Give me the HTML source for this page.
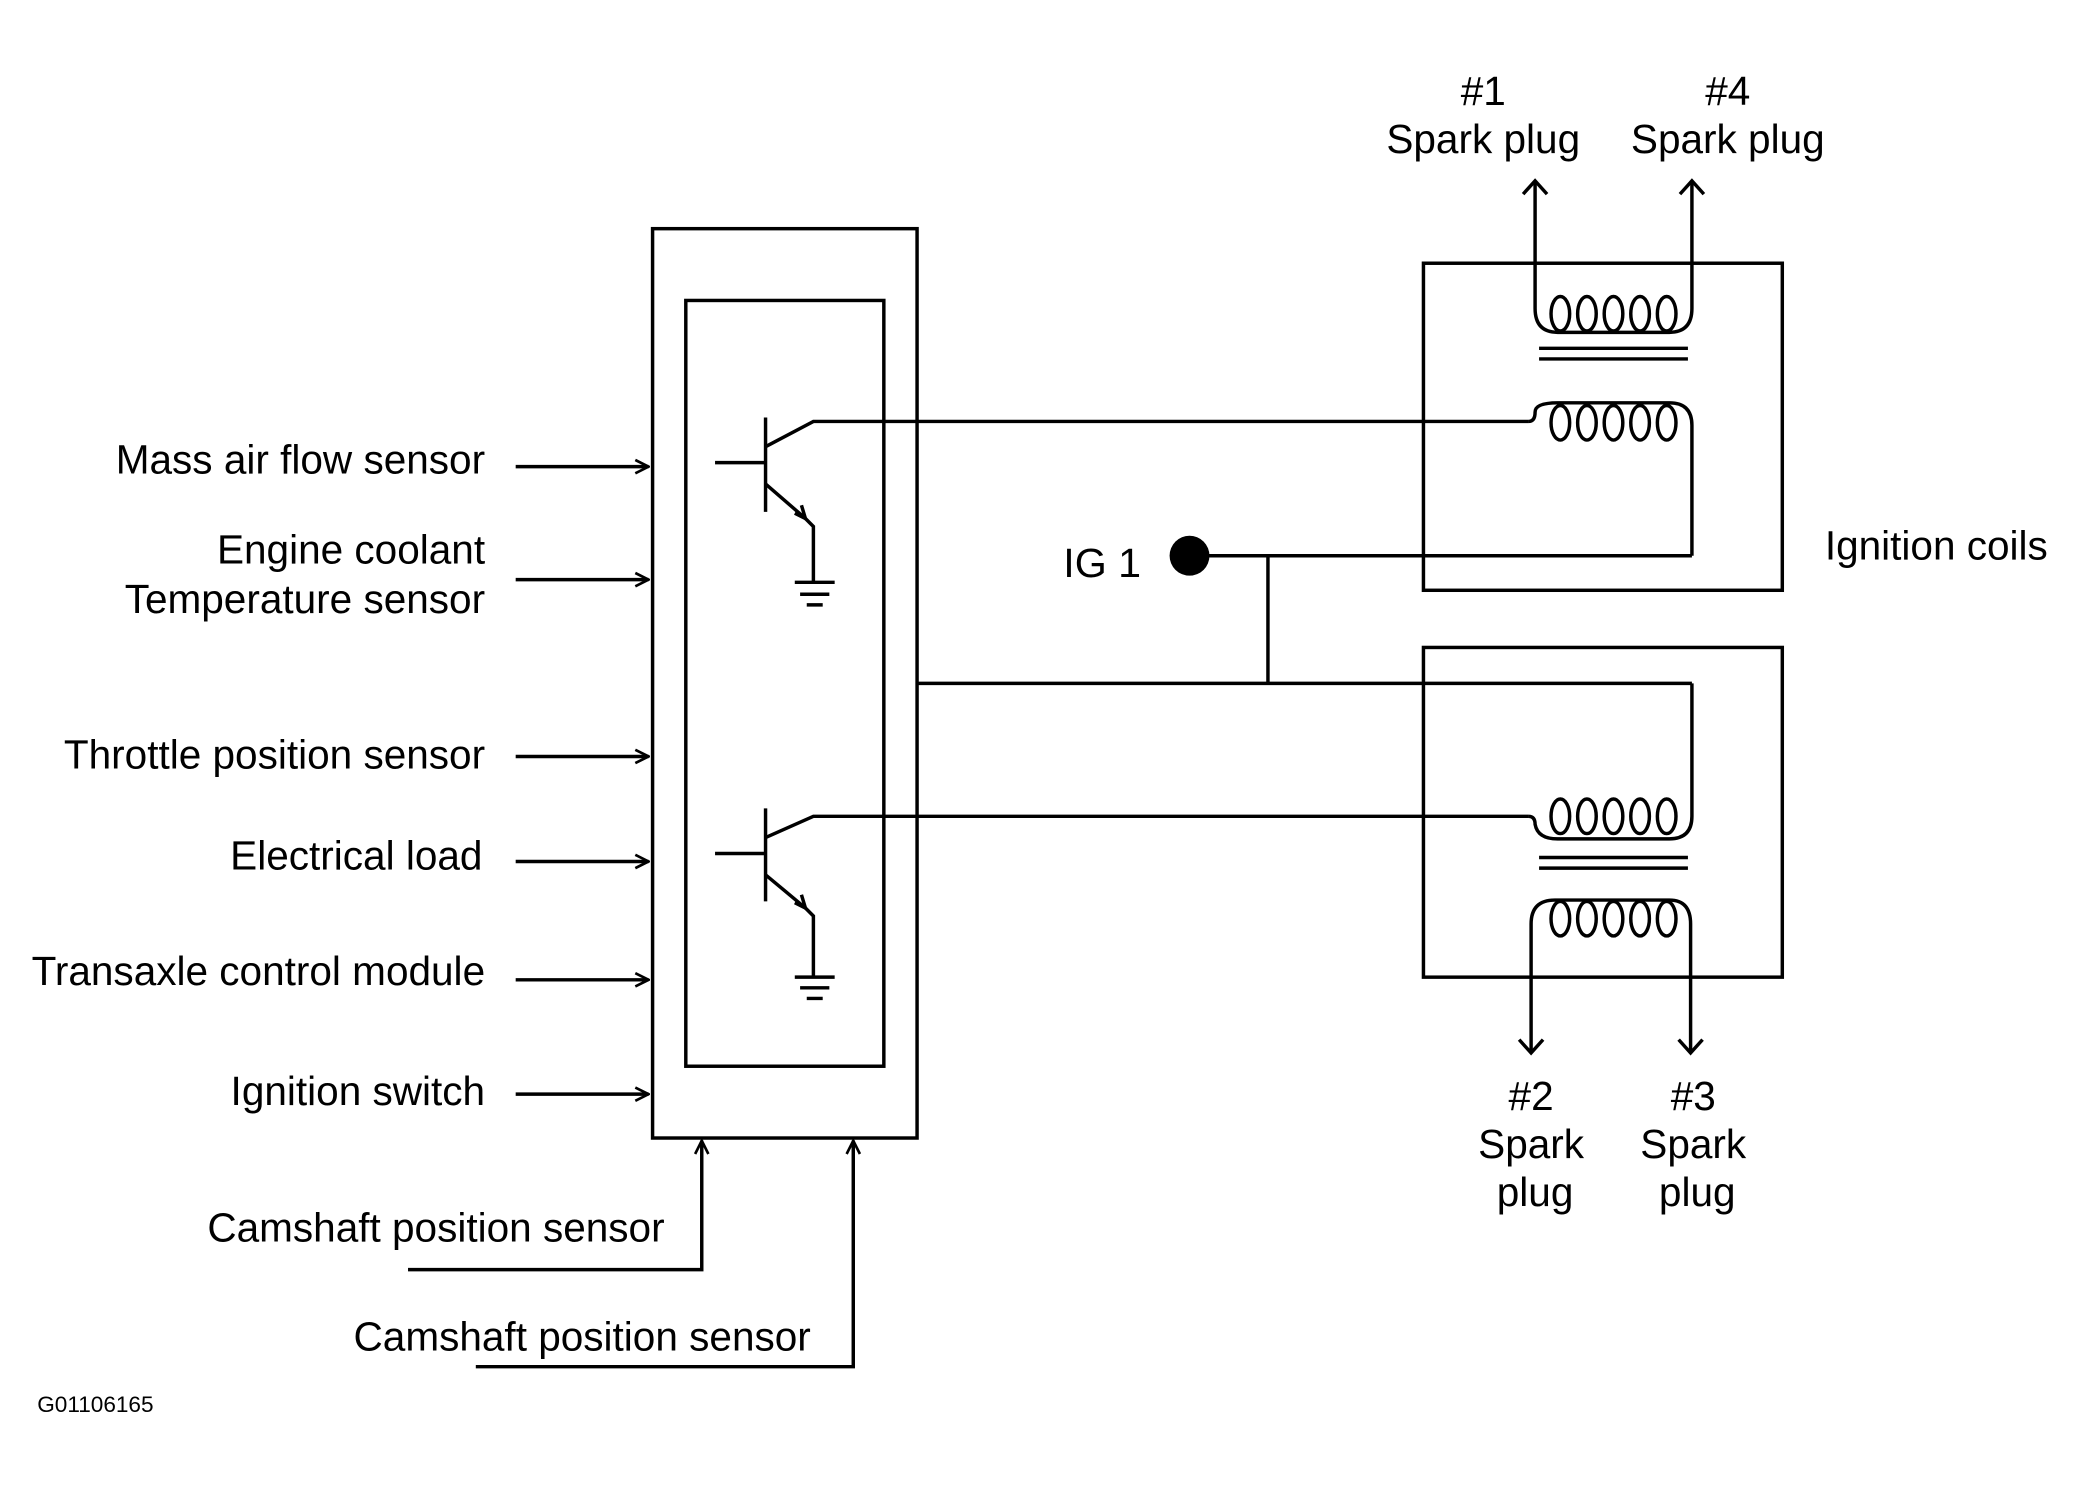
<!DOCTYPE html>
<html><head><style>
html,body{margin:0;padding:0;background:#fff;}
svg{display:block;}
text{font-family:"Liberation Sans",Arial,sans-serif;fill:#000;}
</style></head><body>
<svg width="2084" height="1489" viewBox="0 0 1568 1120" preserveAspectRatio="none" xmlns="http://www.w3.org/2000/svg">
<defs>
<marker id="ah" viewBox="0 0 12 12" refX="11" refY="6" markerWidth="12" markerHeight="12" markerUnits="userSpaceOnUse" orient="auto">
<path d="M1,1 L11,6 L1,11" fill="none" stroke="#000" stroke-width="2"/>
</marker>
<g id="loops" fill="none" stroke="#000" stroke-width="2.6">
<ellipse cx="0" cy="0" rx="7" ry="13"/>
<ellipse cx="20" cy="0" rx="7" ry="13"/>
<ellipse cx="40" cy="0" rx="7" ry="13"/>
<ellipse cx="60" cy="0" rx="7" ry="13"/>
<ellipse cx="80" cy="0" rx="7" ry="13"/>
</g>
</defs>
<g fill="none" stroke="#000" stroke-width="2.6">
<rect x="491" y="172" width="199" height="684"/>
<rect x="516" y="226" width="149" height="576"/>
<line x1="538" y1="348" x2="576" y2="348"/>
<line x1="576" y1="314" x2="576" y2="385"/>
<path d="M576,336 L612,317 L1150,317"/>
<path d="M576,364 L606,390"/>
<path d="M598,386 L606,390 L603,380"/>
<path d="M606,390 L612,396 L612,438"/>
<line x1="598" y1="438" x2="628" y2="438"/>
<line x1="602" y1="447" x2="624" y2="447"/>
<line x1="607" y1="455" x2="619" y2="455"/>
<line x1="538" y1="642" x2="576" y2="642"/>
<line x1="576" y1="608" x2="576" y2="678"/>
<path d="M576,630 L612,614 L1150,614"/>
<path d="M576,658 L606,683"/>
<path d="M598,679 L606,683 L603,673"/>
<path d="M606,683 L612,689 L612,735"/>
<line x1="598" y1="735" x2="628" y2="735"/>
<line x1="602" y1="743" x2="624" y2="743"/>
<line x1="607" y1="751" x2="619" y2="751"/>
<line x1="690" y1="514" x2="1273" y2="514"/>
<line x1="895" y1="418" x2="1273" y2="418"/>
<line x1="954" y1="418" x2="954" y2="514"/>
<rect x="1071" y="198" width="270" height="246"/>
<rect x="1071" y="487" width="270" height="248"/>
<path d="M1155,136 L1155,232 Q1155,250 1172,250 L1256,250 Q1273,250 1273,232 L1273,136"/>
<path d="M1150,317 Q1155,317 1155,310 Q1155,303 1172,303 L1256,303 Q1273,303 1273,320 L1273,418"/>
<line x1="1158" y1="262" x2="1270" y2="262"/>
<line x1="1158" y1="270" x2="1270" y2="270"/>
<line x1="1158" y1="645" x2="1270" y2="645"/>
<line x1="1158" y1="653" x2="1270" y2="653"/>
<path d="M1150,614 Q1155,614 1155,620 Q1157,631 1172,631 L1256,631 Q1273,631 1273,614 L1273,514"/>
<path d="M1152,792 L1152,695 Q1152,677 1170,677 L1256,677 Q1272,677 1272,695 L1272,792"/>
</g>
<use href="#loops" x="1174" y="236"/>
<use href="#loops" x="1174" y="318"/>
<use href="#loops" x="1174" y="614"/>
<use href="#loops" x="1174" y="691"/>
<g fill="none" stroke="#000" stroke-width="2.6">
<path d="M1146,146 L1155,136 L1164,146"/>
<path d="M1264,146 L1273,136 L1282,146"/>
<path d="M1143,782 L1152,792 L1161,782"/>
<path d="M1263,782 L1272,792 L1281,782"/>
<line x1="388" y1="351" x2="488" y2="351" marker-end="url(#ah)"/>
<line x1="388" y1="436" x2="488" y2="436" marker-end="url(#ah)"/>
<line x1="388" y1="569" x2="488" y2="569" marker-end="url(#ah)"/>
<line x1="388" y1="648" x2="488" y2="648" marker-end="url(#ah)"/>
<line x1="388" y1="737" x2="488" y2="737" marker-end="url(#ah)"/>
<line x1="388" y1="823" x2="488" y2="823" marker-end="url(#ah)"/>
<path d="M307,955 L528,955 L528,858" marker-end="url(#ah)"/>
<path d="M358,1028 L642,1028 L642,858" marker-end="url(#ah)"/>
</g>
<circle cx="895" cy="418" r="15" fill="#000"/>
<g font-size="30.5">
<text x="365" y="356" text-anchor="end">Mass air flow sensor</text>
<text x="365" y="424" text-anchor="end">Engine coolant</text>
<text x="365" y="461" text-anchor="end">Temperature sensor</text>
<text x="365" y="578" text-anchor="end">Throttle position sensor</text>
<text x="363" y="654" text-anchor="end">Electrical load</text>
<text x="365" y="741" text-anchor="end">Transaxle control module</text>
<text x="365" y="831" text-anchor="end">Ignition switch</text>
<text x="156" y="934">Camshaft position sensor</text>
<text x="266" y="1016">Camshaft position sensor</text>
<text x="800" y="434" font-size="31">IG 1</text>
<text x="1373" y="421">Ignition coils</text>
<text x="1116" y="79" text-anchor="middle">#1</text>
<text x="1116" y="115" text-anchor="middle">Spark plug</text>
<text x="1300" y="79" text-anchor="middle">#4</text>
<text x="1300" y="115" text-anchor="middle">Spark plug</text>
<text x="1152" y="835" text-anchor="middle">#2</text>
<text x="1152" y="871" text-anchor="middle">Spark</text>
<text x="1155" y="907" text-anchor="middle">plug</text>
<text x="1274" y="835" text-anchor="middle">#3</text>
<text x="1274" y="871" text-anchor="middle">Spark</text>
<text x="1277" y="907" text-anchor="middle">plug</text>
<text x="28" y="1062" font-size="17">G01106165</text>
</g>
</svg>
</body></html>
